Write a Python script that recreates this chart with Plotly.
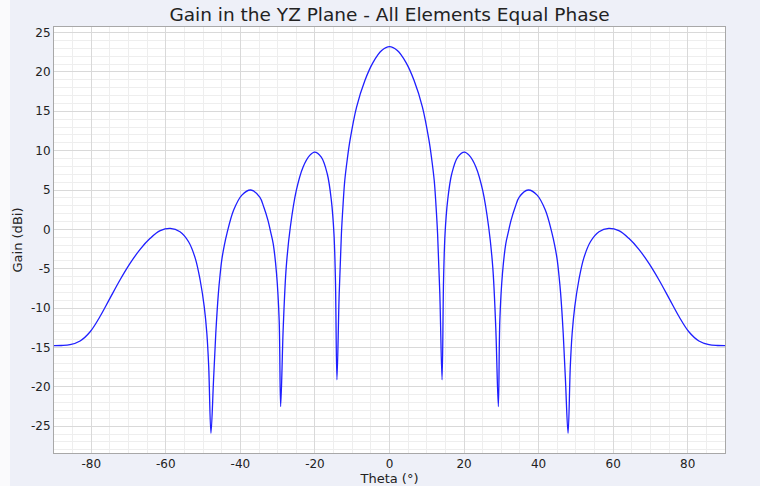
import plotly.graph_objects as go

theta_left = [-90.0, -88.0, -85.7, -83.0, -80.3, -77.7, -75.0, -72.3, -69.6, -66.9, -64.2, -61.5,
              -58.8, -56.2, -53.9, -52.1, -50.8, -49.7, -49.0, -48.5, -47.9, -47.2, -46.6, -45.9,
              -45.45, -45.0, -44.3, -43.6, -41.8, -39.6, -37.2, -34.8, -33.7, -32.6, -31.9, -31.2,
              -30.3, -29.6, -29.2, -28.5, -27.7, -26.6, -25.0, -23.2, -21.4, -20.1, -18.3, -16.7,
              -15.6, -14.9, -14.5, -14.1, -13.5, -12.9, -12.45, -12.0, -11.3, -10.6, -8.85, -6.6,
              -4.4, -2.1]
gain_left = [-14.77, -14.75, -14.64, -14.17, -13.0, -11.1, -8.76, -6.43, -4.32, -2.54, -1.14, -0.17,
             0.12, -0.30, -1.57, -3.68, -6.43, -9.82, -13.2, -17.4, -25.9, -19.1, -13.2, -8.1,
             -5.8, -3.9, -2.0, -0.5, 2.45, 4.35, 5.0, 4.1, 2.8, 1.14, -0.3, -1.82,
             -5.63, -11.5, -22.5, -12.4, -4.8, 0.3, 4.95, 7.9, 9.39, 9.81, 9.18, 7.06,
             3.68, -0.55, -6.47, -19.1, -8.2, -0.55, 3.2, 6.2, 9.0, 11.3, 15.5, 18.9,
             21.2, 22.7]
theta_center = [0.0]
gain_center = [23.2]
theta_right = [2.1, 4.4, 6.6, 8.85, 10.6, 11.3, 12.0, 12.45, 12.9, 13.5, 14.1, 14.5, 14.9, 15.6,
               16.7, 18.3, 20.1, 21.4, 23.2, 25.0, 26.6, 27.7, 28.5, 29.2, 29.6, 30.3, 31.2,
               31.9, 32.6, 33.7, 34.8, 37.2, 39.6, 41.8, 43.6, 44.3, 45.0, 45.45, 45.9, 46.6,
               47.2, 47.9, 48.5, 49.0, 49.7, 50.8, 52.1, 53.9, 56.2, 58.8, 61.5, 64.2, 66.9,
               69.6, 72.3, 75.0, 77.7, 80.3, 83.0, 85.7, 88.0, 90.0]
gain_right = [22.7, 21.2, 18.9, 15.5, 11.3, 9.0, 6.2, 3.2, -0.55, -8.2, -19.1, -6.47, -0.55, 3.68,
              7.06, 9.18, 9.81, 9.39, 7.9, 4.95, 0.3, -4.8, -12.4, -22.5, -11.5, -5.63, -1.82,
              -0.3, 1.14, 2.8, 4.1, 5.0, 4.35, 2.45, -0.5, -2.0, -3.9, -5.8, -8.1, -13.2,
              -19.1, -25.9, -17.4, -13.2, -9.82, -6.43, -3.68, -1.57, -0.30, 0.12, -0.17, -1.14, -2.54,
              -4.32, -6.43, -8.76, -11.1, -13.0, -14.17, -14.64, -14.75, -14.77]

theta = theta_left + theta_center + theta_right
gain = gain_left + gain_center + gain_right

x_ticks = [-80, -60, -40, -20, 0, 20, 40, 60, 80]
y_ticks = [-25, -20, -15, -10, -5, 0, 5, 10, 15, 20, 25]

fig = go.Figure()
fig.add_trace(go.Scatter(x=theta, y=gain, mode="lines",
                         line=dict(color="#1f1fff", width=1.3, shape="spline", smoothing=1.0),
                         hoverinfo="skip", showlegend=False))

axis_common = dict(showline=True, linecolor="#a8a8a8", linewidth=1, mirror=True,
                   gridcolor="#d9d9d9", gridwidth=1, zeroline=False, ticks="", automargin=False,
                   tickfont=dict(family="DejaVu Sans", size=12, color="#222222"))
fig.update_xaxes(range=[-90, 90], tickvals=x_ticks, ticktext=[str(v) for v in x_ticks],
                 minor=dict(dtick=5, tick0=0, showgrid=True, gridcolor="#eeeeee", gridwidth=1),
                 title=dict(text="Theta (°)", font=dict(family="DejaVu Sans", size=13, color="#222222"), standoff=4),
                 **axis_common)
fig.update_yaxes(range=[-28.4, 25.7], tickvals=y_ticks, ticktext=[str(v) for v in y_ticks],
                 minor=dict(dtick=1, tick0=0, showgrid=True, gridcolor="#eeeeee", gridwidth=1),
                 title=dict(text="Gain (dBi)", font=dict(family="DejaVu Sans", size=13, color="#222222"), standoff=5),
                 **axis_common)

fig.update_layout(
    width=760, height=486,
    margin=dict(l=54, r=35, t=27, b=33),
    paper_bgcolor="#eef0f8", plot_bgcolor="#ffffff",
    title=dict(text="Gain in the YZ Plane - All Elements Equal Phase",
               font=dict(family="DejaVu Sans", size=18.5, color="#222222"),
               x=(54 + 671 / 2) / 760, xanchor="center", y=1 - 15 / 486, yanchor="middle"),
    shapes=[dict(type="rect", xref="paper", yref="paper", x0=-54 / 671, x1=-44 / 671,
                 y0=-33 / 426, y1=1 + 27 / 426, fillcolor="#fafafc", line=dict(width=0), layer="below")],
)

fig.write_html("out.html")
